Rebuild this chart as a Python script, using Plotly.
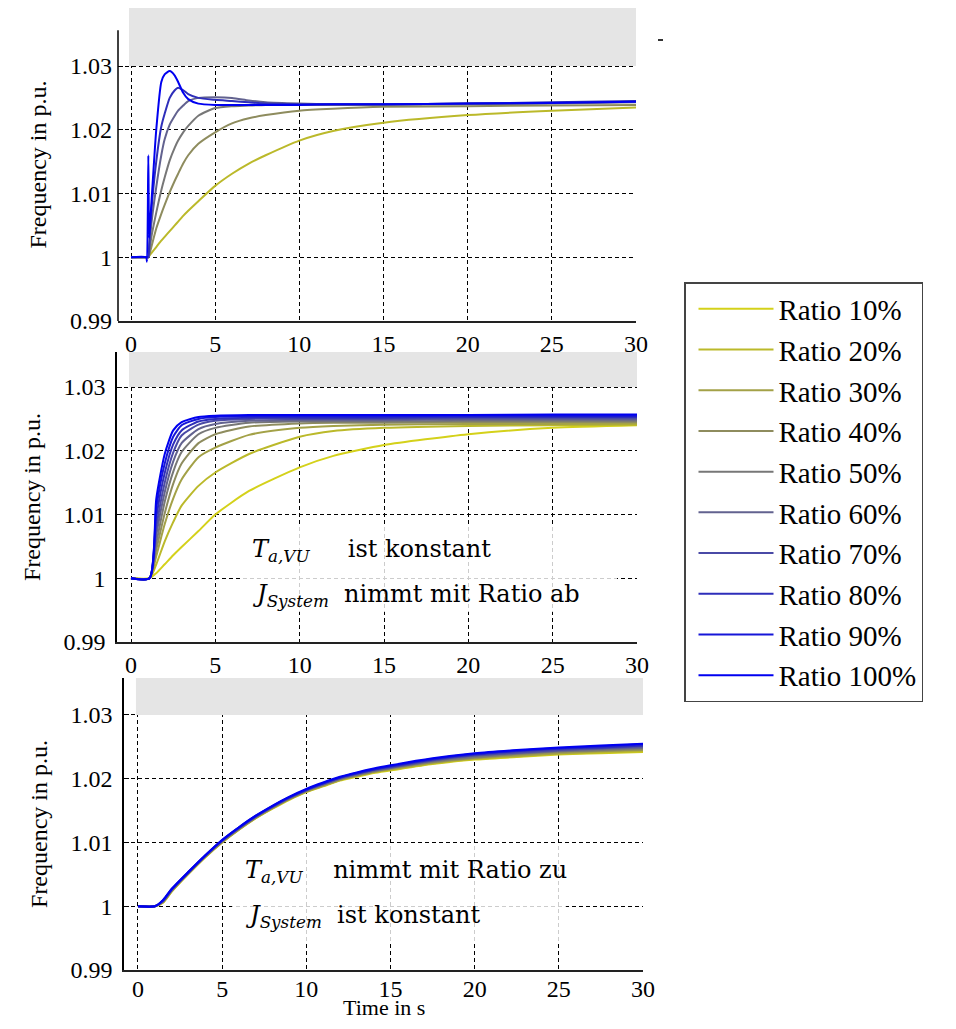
import plotly.graph_objects as go

# ---------------- data ----------------
RATIOS = ["Ratio 10%", "Ratio 20%", "Ratio 30%", "Ratio 40%", "Ratio 50%",
          "Ratio 60%", "Ratio 70%", "Ratio 80%", "Ratio 90%", "Ratio 100%"]
COLORS = ["#d4d11a", "#bbb92a", "#a3a147", "#8e8c5e", "#777777",
          "#62628f", "#4a4aa6", "#2e2eba", "#1616d8", "#0000f0"]

# Panel 1 (only some ratios visible)
T1 = [0, 0.9, 0.95, 1.03, 1.08, 1.2, 1.5, 1.8, 2.0, 2.3, 2.6, 2.8, 3.1, 3.4,
      4.0, 5.0, 6.0, 7.0, 8.0, 10, 12, 15, 20, 25, 30]
P1_IDX = [1, 3, 4, 5, 7, 9]
P1_20 = [1, 1, 1, 1, 1.0002, 1.0006, 1.0016, 1.0026, 1.0032, 1.0041, 1.0050, 1.0056, 1.0065, 1.0073,
         1.0088, 1.0112, 1.0131, 1.0147, 1.0160, 1.0183, 1.0198, 1.0211, 1.0223, 1.0230, 1.0235]
P1_40 = [1, 1, 1, 1, 1.0003, 1.0015, 1.0045, 1.0068, 1.0082, 1.0102, 1.0120, 1.0131, 1.0147, 1.0160,
         1.0178, 1.0196, 1.0210, 1.0218, 1.0223, 1.0230, 1.0233, 1.0236, 1.0237, 1.0238, 1.0239]
P1_50 = [1, 1, 1, 1, 1.0005, 1.0030, 1.0070, 1.0105, 1.0125, 1.0152, 1.0172, 1.0183, 1.0196, 1.0206,
         1.0222, 1.0234, 1.0237, 1.0238, 1.0239, 1.0239, 1.0239, 1.0239, 1.0240, 1.0241, 1.0243]
P1_60 = [1, 1, 1, 1, 1.0010, 1.0050, 1.0110, 1.0160, 1.0185, 1.0208, 1.0222, 1.0230, 1.0238, 1.0245,
         1.0250, 1.0251, 1.0250, 1.0246, 1.0243, 1.0241, 1.0240, 1.0240, 1.0241, 1.0242, 1.0244]
P1_80 = [1, 1, 1, 1, 1.0020, 1.0070, 1.0150, 1.0205, 1.0225, 1.0250, 1.0262, 1.0266, 1.0262, 1.0256,
         1.0250, 1.0247, 1.0245, 1.0243, 1.0241, 1.0240, 1.0240, 1.0240, 1.0241, 1.0243, 1.0245]
P1_100 = [1, 1, 0.9993, 1.0160, 1.0030, 1.0080, 1.0200, 1.0275, 1.0287, 1.0292, 1.0285, 1.0275, 1.0258, 1.0248,
          1.0241, 1.0239, 1.0239, 1.0239, 1.0239, 1.0239, 1.0240, 1.0240, 1.0241, 1.0242, 1.0244]
P1 = [P1_20, P1_40, P1_50, P1_60, P1_80, P1_100]

# Panel 2 (T_a,VU constant, J_System decreasing)
T2 = [0, 1.1, 1.5, 2, 2.5, 3, 4, 5, 7, 10, 12, 15, 20, 25, 30]
P2_10 = [1, 1, 1.0008, 1.0022, 1.0036, 1.0049, 1.0074, 1.0100, 1.0137, 1.0174, 1.0192, 1.0209, 1.0226, 1.0236, 1.0240]
P2_20 = [1, 1, 1.0022, 1.0058, 1.0088, 1.0114, 1.0145, 1.0166, 1.0195, 1.0222, 1.0231, 1.0236, 1.0239, 1.0240, 1.0241]
P2_30 = [1, 1, 1.0035, 1.0085, 1.0125, 1.0155, 1.0190, 1.0205, 1.0225, 1.0236, 1.0239, 1.0241, 1.0242, 1.0242, 1.0243]
P2_40 = [1, 1, 1.0045, 1.0102, 1.0148, 1.0180, 1.0212, 1.0226, 1.0238, 1.0243, 1.0244, 1.0244, 1.0245, 1.0245, 1.0245]
P2_50 = [1, 1, 1.0055, 1.0120, 1.0167, 1.0198, 1.0226, 1.0236, 1.0244, 1.0246, 1.0246, 1.0246, 1.0247, 1.0247, 1.0247]
P2_60 = [1, 1, 1.0068, 1.0135, 1.0183, 1.0212, 1.0234, 1.0242, 1.0247, 1.0248, 1.0248, 1.0248, 1.0249, 1.0249, 1.0249]
P2_70 = [1, 1, 1.0080, 1.0150, 1.0197, 1.0224, 1.0241, 1.0247, 1.0250, 1.0250, 1.0250, 1.0250, 1.0251, 1.0251, 1.0251]
P2_80 = [1, 1, 1.0095, 1.0165, 1.0210, 1.0232, 1.0246, 1.0250, 1.0252, 1.0252, 1.0252, 1.0252, 1.0253, 1.0253, 1.0253]
P2_90 = [1, 1, 1.0110, 1.0180, 1.0222, 1.0240, 1.0250, 1.0253, 1.0254, 1.0254, 1.0254, 1.0254, 1.0255, 1.0255, 1.0255]
P2_100 = [1, 1, 1.0125, 1.0195, 1.0232, 1.0245, 1.0253, 1.0255, 1.0256, 1.0256, 1.0256, 1.0256, 1.0256, 1.0257, 1.0257]
P2 = [P2_10, P2_20, P2_30, P2_40, P2_50, P2_60, P2_70, P2_80, P2_90, P2_100]

# Panel 3 (T_a,VU increasing, J_System constant)
T3 = [0, 1, 1.5, 2, 3, 4, 5, 6, 7, 8, 9, 10, 11, 12, 13, 14, 15, 17.5, 20, 22.5, 25, 27.5, 30]
P3_10 = [1, 1, 1.0006, 1.0023, 1.0051, 1.0077, 1.0100, 1.0120, 1.0138, 1.0153, 1.0167, 1.0179, 1.0188, 1.0197, 1.0203, 1.0209, 1.0213, 1.0223, 1.0230, 1.0234, 1.0238, 1.0240, 1.0242]
P3_20 = [1, 1, 1.0006, 1.0023, 1.0051, 1.0077, 1.0100, 1.0120, 1.0138, 1.0154, 1.0168, 1.0180, 1.0189, 1.0198, 1.0204, 1.0210, 1.0214, 1.0224, 1.0231, 1.0235, 1.0239, 1.0241, 1.0243]
P3_30 = [1, 1, 1.0007, 1.0024, 1.0052, 1.0078, 1.0101, 1.0121, 1.0139, 1.0154, 1.0168, 1.0180, 1.0189, 1.0198, 1.0205, 1.0211, 1.0215, 1.0225, 1.0232, 1.0236, 1.0240, 1.0243, 1.0245]
P3_40 = [1, 1, 1.0007, 1.0024, 1.0052, 1.0078, 1.0101, 1.0121, 1.0139, 1.0155, 1.0169, 1.0181, 1.0190, 1.0199, 1.0205, 1.0211, 1.0216, 1.0226, 1.0233, 1.0238, 1.0242, 1.0244, 1.0246]
P3_50 = [1, 1, 1.0008, 1.0025, 1.0052, 1.0078, 1.0102, 1.0122, 1.0140, 1.0155, 1.0169, 1.0181, 1.0191, 1.0200, 1.0206, 1.0212, 1.0217, 1.0227, 1.0234, 1.0239, 1.0243, 1.0245, 1.0248]
P3_60 = [1, 1, 1.0008, 1.0025, 1.0053, 1.0079, 1.0102, 1.0122, 1.0140, 1.0156, 1.0170, 1.0182, 1.0191, 1.0200, 1.0207, 1.0213, 1.0217, 1.0228, 1.0236, 1.0240, 1.0244, 1.0247, 1.0249]
P3_70 = [1, 1, 1.0009, 1.0026, 1.0053, 1.0079, 1.0103, 1.0123, 1.0141, 1.0156, 1.0170, 1.0182, 1.0192, 1.0201, 1.0208, 1.0214, 1.0218, 1.0229, 1.0237, 1.0241, 1.0245, 1.0248, 1.0251]
P3_80 = [1, 1, 1.0009, 1.0026, 1.0053, 1.0079, 1.0103, 1.0123, 1.0141, 1.0157, 1.0171, 1.0183, 1.0193, 1.0202, 1.0208, 1.0214, 1.0219, 1.0230, 1.0238, 1.0243, 1.0247, 1.0249, 1.0252]
P3_90 = [1, 1, 1.0010, 1.0027, 1.0054, 1.0080, 1.0104, 1.0124, 1.0142, 1.0157, 1.0171, 1.0183, 1.0193, 1.0202, 1.0209, 1.0215, 1.0220, 1.0231, 1.0239, 1.0244, 1.0248, 1.0251, 1.0254]
P3_100 = [1, 1, 1.0010, 1.0027, 1.0054, 1.0080, 1.0104, 1.0124, 1.0142, 1.0158, 1.0172, 1.0184, 1.0194, 1.0203, 1.0210, 1.0216, 1.0221, 1.0232, 1.0240, 1.0245, 1.0249, 1.0252, 1.0255]
P3 = [P3_10, P3_20, P3_30, P3_40, P3_50, P3_60, P3_70, P3_80, P3_90, P3_100]

X_TICKS = [0, 5, 10, 15, 20, 25, 30]
Y_TICKS = [0.99, 1.0, 1.01, 1.02, 1.03]
Y_TICKTEXT = ["0.99", "1", "1.01", "1.02", "1.03"]

# ---------------- figure ----------------
OFF = 8                      # html body margin on every side
W, H = 956 - 2 * OFF, 1029 - 2 * OFF
SERIF = "Liberation Serif, Tinos, Times New Roman, Times, serif"
fig = go.Figure()


def px_x(p):
    return min(1.0, max(0.0, (p - OFF) / W))


def px_y(p):
    return min(1.0, max(0.0, 1 - (p - OFF) / H))


LINE = dict(width=2, shape="spline", smoothing=0.6)
for k, idx in enumerate(P1_IDX):
    fig.add_trace(go.Scatter(x=T1, y=P1[k], mode="lines", line=dict(color=COLORS[idx], **LINE),
                             name=RATIOS[idx], legendgroup=RATIOS[idx], showlegend=False,
                             xaxis="x", yaxis="y"))
for i in range(10):
    fig.add_trace(go.Scatter(x=T2, y=P2[i], mode="lines", line=dict(color=COLORS[i], **LINE),
                             name=RATIOS[i], legendgroup=RATIOS[i], showlegend=True,
                             xaxis="x2", yaxis="y2"))
for i in range(10):
    fig.add_trace(go.Scatter(x=T3, y=P3[i], mode="lines", line=dict(color=COLORS[i], **LINE),
                             name=RATIOS[i], legendgroup=RATIOS[i], showlegend=False,
                             xaxis="x3", yaxis="y3"))

TICKFONT = dict(family=SERIF, size=24, color="black")
GRID = dict(showgrid=True, gridcolor="black", gridwidth=1, griddash="4px,3px", zeroline=False)

panels = [
    # (x domain px, y domain px (top,bottom), xrange, yrange, x tick label standoff)
    ((118, 636), (8, 321), [-0.772, 30], [0.99, 1.0391], 0),
    ((117, 637), (352, 642), [-0.83, 30], [0.99, 1.0355], 0),
    ((124, 643), (678, 970), [-0.83, 30], [0.99, 1.0358], -4),
]

layout_axes = {}
shapes = []
for n, (xd, yd, xr, yr, xso) in enumerate(panels, start=1):
    sx = "" if n == 1 else str(n)
    layout_axes["xaxis" + sx] = dict(
        domain=[px_x(xd[0]), px_x(xd[1])], range=xr, anchor="y" + sx,
        tickvals=X_TICKS, ticks="", tickfont=TICKFONT, ticklabelstandoff=xso, automargin=False,
        showline=True, linecolor="#222", linewidth=2, **GRID)
    layout_axes["yaxis" + sx] = dict(
        domain=[px_y(yd[1]), px_y(yd[0])], range=yr, anchor="x" + sx,
        tickvals=Y_TICKS, ticktext=Y_TICKTEXT, ticks="inside", ticklen=5, tickcolor="black",
        tickfont=TICKFONT, ticklabelstandoff=5, automargin=False,
        showline=(n != 1), linecolor="black", linewidth=1.5,
        title=dict(text="Frequency in p.u.", font=dict(family=SERIF, size=24, color="black"), standoff=16),
        **GRID)
    # grey box above 1.03
    shapes.append(dict(type="rect", xref="x" + sx, yref="y" + sx, x0=-0.12, x1=30.1, y0=1.03, y1=yr[1],
                       fillcolor="#e5e5e5", line=dict(width=0), layer="above"))

# left axis line for panel 1 (starts below top of grey box)
shapes.append(dict(type="line", xref="x domain", yref="y", x0=0, x1=0, y0=0.99, y1=1.0356,
                   line=dict(color="black", width=1.5)))
# small mark top right
shapes.append(dict(type="line", xref="paper", yref="paper", x0=px_x(658), x1=px_x(663),
                   y0=px_y(40), y1=px_y(40), line=dict(color="#333", width=2)))
# white translucent boxes behind text
shapes.append(dict(type="rect", xref="paper", yref="paper", x0=px_x(240), x1=px_x(617),
                   y0=px_y(612), y1=px_y(524), fillcolor="rgba(255,255,255,0.8)", line=dict(width=0), layer="above"))
shapes.append(dict(type="rect", xref="paper", yref="paper", x0=px_x(232), x1=px_x(566),
                   y0=px_y(942), y1=px_y(843), fillcolor="rgba(255,255,255,0.8)", line=dict(width=0), layer="above"))

ANN_FONT = dict(family="DejaVu Serif", size=24, color="black")
NB = "\u00a0"
annotations = [
    dict(text="<i>T</i><sub><i>a,VU</i></sub>" + NB * 5 + "ist konstant", x=px_x(250), y=px_y(550)),
    dict(text="<i>J</i><sub><i>System</i></sub>" + NB * 2 + "nimmt mit Ratio ab", x=px_x(250), y=px_y(595)),
    dict(text="<i>T</i><sub><i>a,VU</i></sub>" + NB * 4 + "nimmt mit Ratio zu", x=px_x(243), y=px_y(871)),
    dict(text="<i>J</i><sub><i>System</i></sub>" + NB * 2 + "ist konstant", x=px_x(243), y=px_y(916)),
]
for a in annotations:
    a.update(xref="paper", yref="paper", xanchor="left", yanchor="middle", showarrow=False, font=ANN_FONT)
# x-axis title of the bottom panel (placed as text to keep it inside the page)
annotations.append(dict(text="Time in s", xref="paper", yref="paper", x=px_x(384), y=0,
                        xanchor="center", yanchor="bottom", showarrow=False, borderpad=0,
                        font=dict(family=SERIF, size=22, color="black")))

fig.update_layout(
    width=W, height=H, margin=dict(l=0, r=0, t=0, b=0, autoexpand=False),
    paper_bgcolor="white", plot_bgcolor="white",
    showlegend=True,
    legend=dict(x=px_x(684), y=px_y(282), xanchor="left", yanchor="top",
                bordercolor="#444", borderwidth=1.5, bgcolor="white",
                font=dict(family=SERIF, size=29, color="black"), itemwidth=75,
                indentation=8, traceorder="normal"),
    shapes=shapes, annotations=annotations,
    **layout_axes,
)

fig.write_html("out.html")
